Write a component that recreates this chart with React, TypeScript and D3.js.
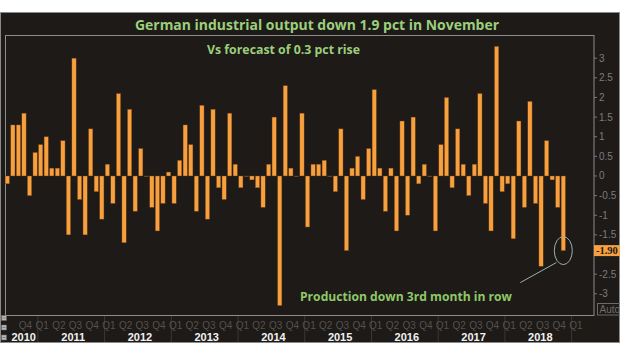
import React from "react";
import * as d3 from "d3";

// Monthly German industrial output change (%), Jul 2010 .. Nov 2018
const firstYear = 2010;
const firstMonth = 6; // July (0-based)
const values = [
  -0.2, 1.3, 1.3, 1.6, -0.5, 0.6, 0.8, 1.0, 0.2, 0.2, 0.9, -1.5,
  3.0, -0.6, -1.5, 1.2, -0.4, -1.1, 0.3, -0.7, 2.1, -1.7, 1.7, -0.9,
  0.7, 0.0, -0.8, -1.4, -0.7, 0.1, -0.7, 0.4, 1.3, 0.8, -0.9, 1.8,
  -1.1, 1.7, -0.3, -0.6, 1.6, 0.3, -0.3, 0.0, -0.1, -0.3, -0.8, 0.3,
  1.5, -3.3, 2.3, 0.2, 0.0, 1.6, -1.3, 0.3, 0.3, 0.4, 0.0, -0.4,
  1.2, -1.9, 0.2, 0.5, -0.6, 0.7, 2.2, 0.2, -0.9, 0.2, -1.4, 1.4,
  -1.0, 1.5, -0.2, 0.3, 0.0, -1.4, 0.8, 2.0, -0.3, 1.2, 0.3, -0.5,
  0.3, 2.1, -0.7, -1.4, 3.3, -0.4, -0.2, -1.6, 1.4, -0.8, 1.9, -0.7,
  -2.3, 0.9, -0.1, -0.8, -1.9,
];
const yTicks = [3, 2.5, 2, 1.5, 1, 0.5, 0, -0.5, -1, -1.5, -2, -2.5, -3];
const years = [2010, 2011, 2012, 2013, 2014, 2015, 2016, 2017, 2018];
const lastLabel = "-1.90";
const title = "German industrial output down 1.9 pct in November";
const note1 = "Vs forecast of 0.3 pct rise";
const note2 = "Production down 3rd month in row";

const W = 620;
const H = 355;
const plot = { left: 5.5, top: 35.5, right: 594, bottom: 315.5 };

export default function App() {
  const n = values.length;
  const x = d3.scaleLinear().domain([0, n - 1]).range([7.3, 563.3]);
  const step = x(1) - x(0);
  const barW = 4.3;
  const y = d3.scaleLinear().domain([-3.54, 3.59]).range([315, 35]);

  // quarter starts after the first partial quarter, up to Q1 of the following year
  const quarters: { i: number; label: string }[] = [];
  for (let i = 1; i <= n + 1; i++) {
    const m = (firstMonth + i) % 12;
    if (m % 3 === 0) quarters.push({ i, label: "Q" + (m / 3 + 1) });
  }
  const yearStartIdx = (yr: number) => (yr - firstYear) * 12 - firstMonth;
  const axisEnd = x(n + 1) + step / 2;

  const lastI = n - 1;
  const ex = x(lastI);
  const ey = y(values[lastI]);

  const green = "#9ccf7c";
  const green2 = "#8ec867";
  const font = "'Open Sans', 'DejaVu Sans', sans-serif";

  return (
    <svg
      width={W}
      height={H}
      style={{ position: "absolute", left: 0, top: 0, background: "#ffffff" }}
      fontFamily={font}
    >
      <rect x={0.5} y={12.5} width={619} height={330} fill="#1d1a18" stroke="#8a8a8a" strokeWidth={1} />
      <text
        x={317}
        y={30}
        textAnchor="middle"
        fontSize={15}
        fontWeight="bold"
        fill={green}
        textLength={364}
        lengthAdjust="spacingAndGlyphs"
      >
        {title}
      </text>

      {/* plot frame */}
      <rect
        x={plot.left}
        y={plot.top}
        width={plot.right - plot.left}
        height={plot.bottom - plot.top}
        fill="#1d1a18"
        stroke="#8c8c8c"
        strokeWidth={1}
      />

      {/* bars */}
      {values.map((v, i) => {
        const y0 = y(0);
        const y1 = y(v);
        const top = Math.min(y0, y1);
        const h = Math.max(Math.abs(y1 - y0), 0.4);
        return (
          <rect
            key={i}
            x={x(i) - barW / 2}
            y={top}
            width={barW}
            height={h}
            fill="#f6a03f"
            stroke="#6b3a0e"
            strokeWidth={0.4}
          />
        );
      })}

      {/* right axis */}
      {yTicks.map((t) => (
        <g key={t}>
          <line x1={plot.right} x2={plot.right + 3} y1={y(t)} y2={y(t)} stroke="#7a7a7a" />
          {Math.abs(y(t) - ey) > 8 ? (
            <text
              x={plot.right + 5}
              y={y(t)}
              dy="0.35em"
              fontSize={10}
              fill="#7c7c7c"
              fontFamily="'Liberation Sans', Arial, sans-serif"
            >
              {String(t)}
            </text>
          ) : null}
        </g>
      ))}
      <rect x={plot.right} y={ey - 5.5} width={W - plot.right} height={11} fill="#f6a03f" />
      <text
        x={plot.right + 2}
        y={ey}
        dy="0.35em"
        fontSize={10.5}
        fontWeight="bold"
        fill="#1a1a1a"
        fontFamily="'Liberation Serif', serif"
      >
        {lastLabel}
      </text>
      <rect x={597.5} y={303.5} width={24} height={11.5} fill="none" stroke="#6a6a6a" />
      <text x={599.5} y={313} fontSize={10} fill="#6f6f6f" fontFamily="'Liberation Sans', Arial, sans-serif">
        Auto
      </text>

      {/* annotations */}
      <text
        x={283.5}
        y={54}
        textAnchor="middle"
        fontSize={12.5}
        fontWeight="bold"
        fill={green}
        textLength={153}
        lengthAdjust="spacingAndGlyphs"
      >
        {note1}
      </text>
      <text
        x={406}
        y={301}
        textAnchor="middle"
        fontSize={13}
        fontWeight="bold"
        fill={green2}
        textLength={212}
        lengthAdjust="spacingAndGlyphs"
      >
        {note2}
      </text>
      <ellipse cx={ex} cy={ey} rx={9} ry={14} fill="none" stroke="#9fb0ad" strokeWidth={1} />
      <line x1={ex - 43} y1={ey + 32} x2={ex - 7} y2={ey + 12} stroke="#9fb0ad" strokeWidth={1} />

      {/* bottom axis */}
      {[...years, years[years.length - 1] + 1].map((yr) => {
        const s = yearStartIdx(yr);
        const bx = x(s) - step / 2;
        return s > 0 ? (
          <line key={"b" + yr} x1={bx} x2={bx} y1={316} y2={342} stroke="#3b3836" strokeWidth={1} />
        ) : null;
      })}
      {quarters.map((q) => (
        <text
          key={"q" + q.i}
          x={x(q.i) + 1.5}
          y={329}
          textAnchor="middle"
          fontSize={10}
          fill="#55524f"
          fontFamily="'Liberation Sans', Arial, sans-serif"
        >
          {q.label}
        </text>
      ))}
      {years.map((yr) => {
        const s = x(yearStartIdx(yr)) - step / 2;
        const e = x(yearStartIdx(yr + 1)) - step / 2;
        const a = Math.max(s, plot.left);
        const b = Math.min(e, axisEnd);
        return (
          <text
            key={"y" + yr}
            x={(a + b) / 2 + 2}
            y={341}
            textAnchor="middle"
            fontSize={11}
            fontWeight="bold"
            fill="#f2f2f2"
            fontFamily="'Liberation Sans', Arial, sans-serif"
          >
            {yr}
          </text>
        );
      })}

      {/* small left widgets */}
      {[315.5, 325, 335].map((yy, k) => (
        <g key={"w" + k}>
          <rect x={1.5} y={yy} width={5} height={5} fill="#b8b8b8" stroke="#666" strokeWidth={0.5} />
          <line x1={2.5} x2={5.5} y1={yy + 2.5} y2={yy + 2.5} stroke="#555" strokeWidth={0.6} />
        </g>
      ))}
    </svg>
  );
}
